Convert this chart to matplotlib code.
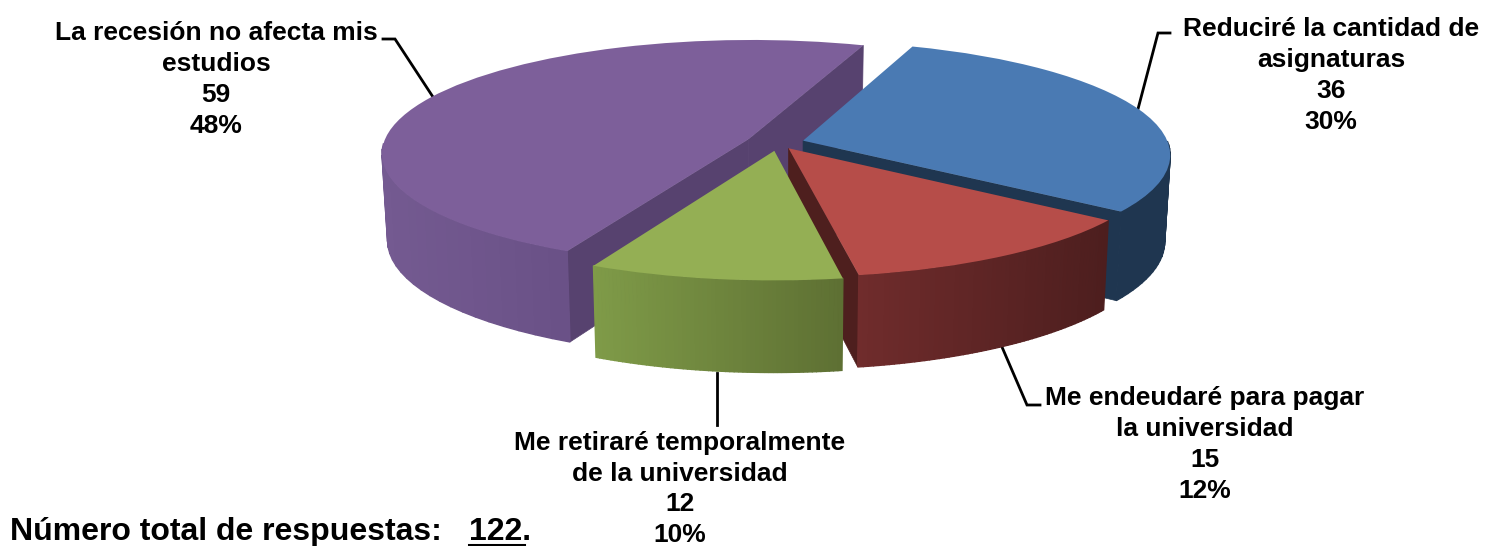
# -*- coding: utf-8 -*-
import numpy as np
import matplotlib
matplotlib.use("Agg")
import matplotlib.pyplot as plt
from matplotlib.colors import to_rgb
from matplotlib.transforms import Transform

# Data
names = ["Reduciré la cantidad de\nasignaturas",
         "Me endeudaré para pagar\nla universidad",
         "Me retiraré temporalmente\nde la universidad",
         "La recesión no afecta mis\nestudios"]
values = [36, 15, 12, 59]
total_label = "Número total de respuestas:"
total_value = "122"

# Style per slice: explode, top, side start, side end, radial face
explode = [0.072, 0.055, 0.07, 0.088]
top_col = ["#4a7ab3", "#b64d49", "#94af54", "#7d5f9a"]
side_a = ["#1f3650", "#702c2c", "#7f9b48", "#745a91"]
side_b = ["#1f3650", "#4d1e1e", "#5e7033", "#6a5187"]
face_col = ["#1f3650", "#4e1f1e", "#5e7033", "#57426f"]
draw_order = [3, 0, 1, 2]

# Label placement (pixels): centre x, baseline of first line
label_xy = [(1331, 36.5), (1205, 405.5), (680, 450), (216, 40.5)]
line_step = 30.7
leaders = [[(1170, 33), (1158, 33), (1138, 109)],
           [(1040, 405), (1027, 405), (1002, 347)],
           [(717, 425), (717, 373)],
           [(383, 39), (395, 39), (433, 97)]]

# Projection of the pie plane to pixels
cx, cy = 778, 143
R, k, p = 365, 112, 0.12
depth, shrink = 86, 0.014
start = 70


def project(x, y, z=0.0):
    s = 1 / (1 + p * np.asarray(y))
    return cx + R * np.asarray(x) * s * (1 - shrink * z), cy - k * np.asarray(y) * s + depth * np.sqrt(s) * z


class PieProjection(Transform):
    input_dims = 2
    output_dims = 2

    def transform_non_affine(self, values):
        values = np.asarray(values)
        return np.column_stack(project(values[:, 0], values[:, 1]))


plt.rcParams["font.family"] = ["Liberation Sans", "DejaVu Sans"]
fig = plt.figure(figsize=(14.86, 5.46), dpi=100)
ax = fig.add_axes([0, 0, 1, 1])

wedges, _ = ax.pie(values, explode=explode, startangle=start, counterclock=False, colors=top_col)
ax.set_aspect("auto")
ax.set_xlim(0, 1486)
ax.set_ylim(546, 0)
ax.axis("off")

# Leader lines go behind the pie
for pts in leaders:
    ax.plot([q[0] for q in pts], [q[1] for q in pts], color="black", lw=2, zorder=1, solid_joinstyle="miter")

proj = PieProjection() + ax.transData
for n, i in enumerate(draw_order):
    w = wedges[i]
    base = 2 + n
    ox, oy = w.center
    t1, t2 = w.theta1, w.theta2

    # Radial faces that look to the front
    for t, visible in ((t1, np.cos(np.radians(t1)) > 0), (t2, np.cos(np.radians(t2)) < 0)):
        if visible:
            ex, ey = ox + w.r * np.cos(np.radians(t)), oy + w.r * np.sin(np.radians(t))
            xs = np.array([ox, ex, ex, ox])
            ys = np.array([oy, ey, ey, oy])
            zs = np.array([0, 0, 1, 1])
            px, py = project(xs, ys, zs)
            ax.fill(px, py, color=face_col[i], lw=0.5, zorder=base)

    # Outer wall, shaded along the arc
    th = np.radians(np.linspace(t1, t2, 60))
    ex, ey = ox + w.r * np.cos(th), oy + w.r * np.sin(th)
    tx, ty = project(ex, ey, 0.0)
    bx, by = project(ex, ey, 1.0)
    front = np.sin(th) < 0.0
    lo, hi = tx[front].min(), tx[front].max()
    c0, c1 = np.array(to_rgb(side_a[i])), np.array(to_rgb(side_b[i]))
    for j in range(len(th) - 1):
        if front[j] and front[j + 1]:
            f = (0.5 * (tx[j] + tx[j + 1]) - lo) / (hi - lo)
            ax.fill([tx[j], tx[j + 1], bx[j + 1], bx[j]], [ty[j], ty[j + 1], by[j + 1], by[j]],
                    color=c0 + (c1 - c0) * f, lw=1.0, zorder=base + 0.1)

    # Top face
    w.set_transform(proj)
    w.set_clip_on(False)
    w.set_zorder(base + 0.2)
    w.set_edgecolor("none")

# Data labels, one text per line
total = sum(values)
for name, val, (lx, ly) in zip(names, values, label_xy):
    lines = name.split("\n") + [str(val), f"{round(val / total * 100)}%"]
    for m, line in enumerate(lines):
        ax.text(lx, ly + m * line_step, line, ha="center", va="baseline",
                fontsize=19, fontweight="bold", color="black", zorder=10)

# Total line
ax.text(10, 540, total_label, ha="left", va="baseline", fontsize=23, fontweight="bold", zorder=10)
ax.text(469, 540, total_value + ".", ha="left", va="baseline", fontsize=23, fontweight="bold", zorder=10)
ax.plot([469, 524], [544.5, 544.5], color="black", lw=2.2, zorder=10)

fig.savefig("out.png", dpi=100)
